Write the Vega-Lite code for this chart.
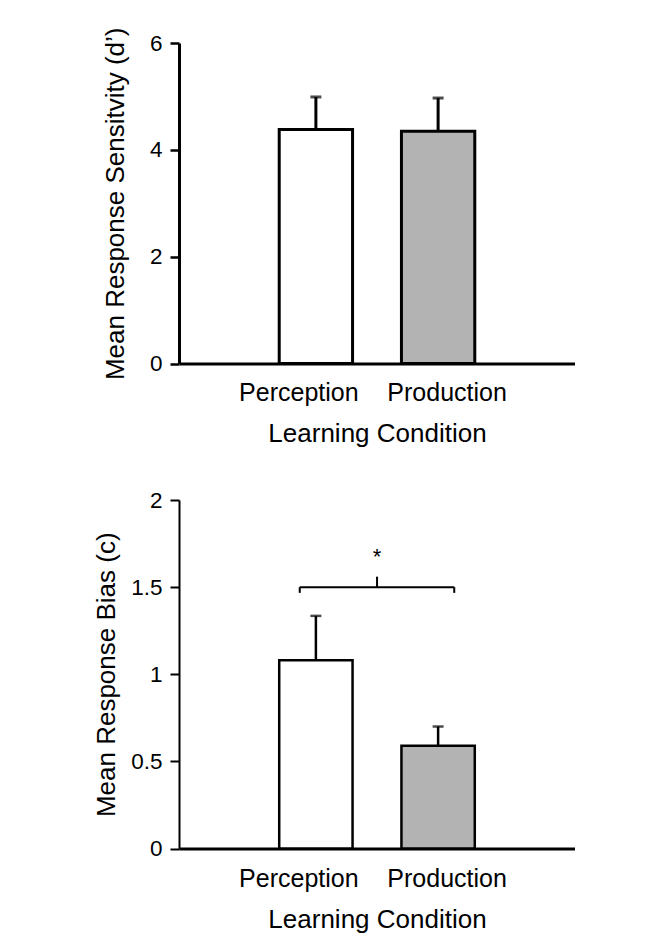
{
  "$schema": "https://vega.github.io/schema/vega-lite/v6.json",
  "background": "white",
  "padding": {"left": 93, "top": 27, "right": 0, "bottom": 0},
  "spacing": 42,
  "config": {
    "view": {"stroke": null},
    "font": "Liberation Sans",
    "axis": {
      "grid": false,
      "domainColor": "black",
      "tickColor": "black",
      "labelColor": "black",
      "titleColor": "black",
      "labelFont": "Liberation Sans",
      "titleFont": "Liberation Sans",
      "titleFontWeight": "normal"
    }
  },
  "datasets": {
    "sens": [
      {"condition": "Perception", "mean": 4.38, "upper": 4.99},
      {"condition": "Production", "mean": 4.35, "upper": 4.97}
    ],
    "bias": [
      {"condition": "Perception", "mean": 1.08, "upper": 1.335},
      {"condition": "Production", "mean": 0.59, "upper": 0.70}
    ],
    "bracket": [
      {"from": "Perception", "to": "Production", "level": 1.5, "foot": 1.467, "peak": 1.56, "star": 1.63, "label": "*"}
    ]
  },
  "vconcat": [
    {
      "width": 396,
      "height": 320.6,
      "data": {"name": "sens"},
      "layer": [
        {
          "mark": {"type": "bar", "stroke": "black", "strokeWidth": 3},
          "encoding": {
            "x": {
              "field": "condition", "type": "nominal",
              "scale": {"domain": ["Perception", "Production"], "paddingInner": 0.4, "paddingOuter": 0.82},
              "axis": {
                "title": "Learning Condition", "ticks": false, "tickSize": 0,
                "domainWidth": 3, "labelAngle": 0, "labelFontSize": 25, "labelPadding": 17,
                "titleFontSize": 26, "titlePadding": 15,
                "labelOffset": {"condition": {"test": "datum.value === 'Perception'", "value": -17}, "value": 9}
              }
            },
            "y": {
              "field": "mean", "type": "quantitative",
              "scale": {"domain": [0, 6]},
              "axis": {
                "title": "Mean Response Sensitvity (d’)", "values": [0, 2, 4, 6], "format": "~g",
                "domainWidth": 3, "tickWidth": 2.5, "tickSize": 9,
                "labelFontSize": 22.5, "labelPadding": 8,
                "titleFontSize": 26, "titlePadding": 21
              }
            },
            "fill": {
              "field": "condition", "type": "nominal",
              "scale": {"domain": ["Perception", "Production"], "range": ["#ffffff", "#b3b3b3"]},
              "legend": null
            }
          }
        },
        {
          "mark": {"type": "rule", "strokeWidth": 3, "color": "black"},
          "encoding": {
            "x": {"field": "condition", "type": "nominal"},
            "y": {"field": "mean", "type": "quantitative"},
            "y2": {"field": "upper"}
          }
        },
        {
          "mark": {"type": "tick", "orient": "horizontal", "size": 11, "thickness": 3, "color": "black"},
          "encoding": {
            "x": {"field": "condition", "type": "nominal"},
            "y": {"field": "upper", "type": "quantitative"}
          }
        }
      ]
    },
    {
      "width": 396,
      "height": 348.5,
      "layer": [
        {
          "data": {"name": "bias"},
          "mark": {"type": "bar", "stroke": "black", "strokeWidth": 2.5},
          "encoding": {
            "x": {
              "field": "condition", "type": "nominal",
              "scale": {"domain": ["Perception", "Production"], "paddingInner": 0.4, "paddingOuter": 0.82},
              "axis": {
                "title": "Learning Condition", "ticks": false, "tickSize": 0,
                "domainWidth": 3, "labelAngle": 0, "labelFontSize": 25, "labelPadding": 18,
                "titleFontSize": 26, "titlePadding": 15,
                "labelOffset": {"condition": {"test": "datum.value === 'Perception'", "value": -17}, "value": 9}
              }
            },
            "y": {
              "field": "mean", "type": "quantitative",
              "scale": {"domain": [0, 2]},
              "axis": {
                "title": "Mean Response Bias (c)", "values": [0, 0.5, 1, 1.5, 2], "format": "~g",
                "domainWidth": 2, "tickWidth": 2, "tickSize": 9,
                "labelFontSize": 22.5, "labelPadding": 8,
                "titleFontSize": 26, "titlePadding": 11
              }
            },
            "fill": {
              "field": "condition", "type": "nominal",
              "scale": {"domain": ["Perception", "Production"], "range": ["#ffffff", "#b3b3b3"]},
              "legend": null
            }
          }
        },
        {
          "data": {"name": "bias"},
          "mark": {"type": "rule", "strokeWidth": 2.5, "color": "black"},
          "encoding": {
            "x": {"field": "condition", "type": "nominal"},
            "y": {"field": "mean", "type": "quantitative"},
            "y2": {"field": "upper"}
          }
        },
        {
          "data": {"name": "bias"},
          "mark": {"type": "tick", "orient": "horizontal", "size": 11, "thickness": 2.5, "color": "black"},
          "encoding": {
            "x": {"field": "condition", "type": "nominal"},
            "y": {"field": "upper", "type": "quantitative"}
          }
        },
        {
          "data": {"name": "bracket"},
          "mark": {"type": "rule", "strokeWidth": 2, "color": "black"},
          "encoding": {
            "x": {"field": "from", "type": "nominal", "bandPosition": 0.28},
            "x2": {"field": "to", "bandPosition": 0.72},
            "y": {"field": "level", "type": "quantitative"}
          }
        },
        {
          "data": {"name": "bracket"},
          "mark": {"type": "rule", "strokeWidth": 2, "color": "black"},
          "encoding": {
            "x": {"field": "from", "type": "nominal", "bandPosition": 0.28},
            "y": {"field": "foot", "type": "quantitative"},
            "y2": {"field": "level"}
          }
        },
        {
          "data": {"name": "bracket"},
          "mark": {"type": "rule", "strokeWidth": 2, "color": "black"},
          "encoding": {
            "x": {"field": "to", "type": "nominal", "bandPosition": 0.72},
            "y": {"field": "foot", "type": "quantitative"},
            "y2": {"field": "level"}
          }
        },
        {
          "data": {"name": "bracket"},
          "mark": {"type": "rule", "strokeWidth": 2, "color": "black"},
          "encoding": {
            "x": {"field": "from", "type": "nominal", "bandPosition": 1.334},
            "y": {"field": "level", "type": "quantitative"},
            "y2": {"field": "peak"}
          }
        },
        {
          "data": {"name": "bracket"},
          "mark": {"type": "text", "fontSize": 22, "baseline": "alphabetic", "align": "center", "color": "black"},
          "encoding": {
            "x": {"field": "from", "type": "nominal", "bandPosition": 1.334},
            "y": {"field": "star", "type": "quantitative"},
            "text": {"field": "label"}
          }
        }
      ]
    }
  ]
}
